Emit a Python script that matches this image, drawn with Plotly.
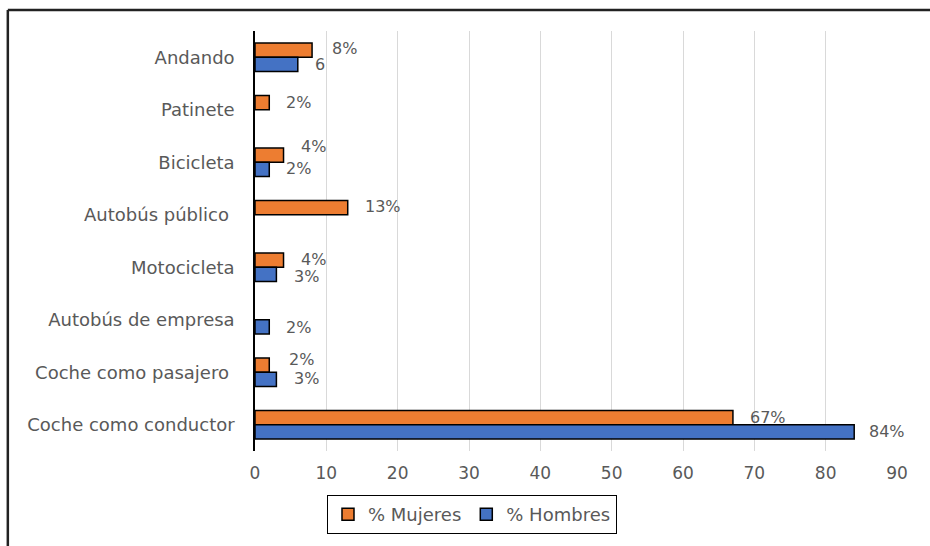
import plotly.graph_objects as go

categories = ["Andando", "Patinete", "Bicicleta", "Autobús público\u00a0", "Motocicleta",
              "Autobús de empresa", "Coche como pasajero\u00a0", "Coche como conductor"]
mujeres = [8, 2, 4, 13, 4, 0, 2, 67]
hombres = [6, 0, 2, 0, 3, 2, 3, 84]
mujeres_labels = ["8%", "2%", "4%", "13%", "4%", "", "2%", "67%"]
hombres_labels = ["6", "", "2%", "", "3%", "2%", "3%", "84%"]
x_ticks = [0, 10, 20, 30, 40, 50, 60, 70, 80, 90]

# label offsets (pixels): x gap after bar end, vertical shift from category centre
m_off = [(18, 9), (15, 7), (15, 16), (15, 8), (15, 8), (15, 7), (18, 13), (15, 7)]
h_off = [(15, -7), (15, -7), (15, -6), (15, -7), (16, -9), (15, -8), (16, -6), (13, -7)]

FONT = "DejaVu Sans"
GRAY = "#595959"
FS = 16


def nz(vals):
    return [v if v != 0 else None for v in vals]


fig = go.Figure()
fig.add_trace(go.Bar(y=categories, x=nz(mujeres), orientation="h", name="% Mujeres",
                     marker=dict(color="#ED7D31", line=dict(color="#000000", width=1.5))))
fig.add_trace(go.Bar(y=categories, x=nz(hombres), orientation="h", name="% Hombres",
                     marker=dict(color="#4472C4", line=dict(color="#000000", width=1.5))))

annotations = []
for cat, v, t, (dx, dy) in zip(categories, mujeres, mujeres_labels, m_off):
    if t:
        annotations.append(dict(x=v, y=cat, text=t, xanchor="left", yanchor="middle",
                                xshift=dx, yshift=dy, showarrow=False,
                                font=dict(family=FONT, size=FS, color=GRAY)))
for cat, v, t, (dx, dy) in zip(categories, hombres, hombres_labels, h_off):
    if t:
        annotations.append(dict(x=v, y=cat, text=t, xanchor="left", yanchor="middle",
                                xshift=dx, yshift=dy, showarrow=False,
                                font=dict(family=FONT, size=FS, color=GRAY)))

fig.update_layout(
    width=930, height=546,
    margin=dict(l=255, r=33, t=31, b=92),
    paper_bgcolor="white", plot_bgcolor="white",
    barmode="group", bargap=0.46, bargroupgap=0,
    font=dict(family=FONT, size=FS, color=GRAY),
    showlegend=True,
    legend=dict(orientation="h", x=0.338, y=-0.105, xanchor="center", yanchor="top",
                bordercolor="#000000", borderwidth=1, bgcolor="white", itemwidth=30,
                font=dict(family=FONT, size=18, color=GRAY), traceorder="normal"),
    annotations=annotations,
    shapes=[
        dict(type="line", xref="paper", yref="paper", x0=-0.385, x1=1.2, y0=1.05, y1=1.05,
             line=dict(color="#222222", width=2.5)),
        dict(type="line", xref="paper", yref="paper", x0=-0.385, x1=-0.385, y0=1.05, y1=-0.3,
             line=dict(color="#222222", width=2.5)),
    ],
)
fig.update_xaxes(range=[0, 90], tickvals=x_ticks, showgrid=True, gridcolor="#D9D9D9",
                 gridwidth=1, zeroline=False, showline=False, ticks="",
                 ticklabelstandoff=10, tickfont=dict(family=FONT, size=17, color=GRAY))
fig.update_yaxes(categoryorder="array", categoryarray=categories, autorange="reversed",
                 showgrid=False, showline=True, linecolor="#000000", linewidth=1.5,
                 ticks="", ticklabelstandoff=15, zeroline=False,
                 tickfont=dict(family=FONT, size=18, color=GRAY))

fig.write_html("out.html")
